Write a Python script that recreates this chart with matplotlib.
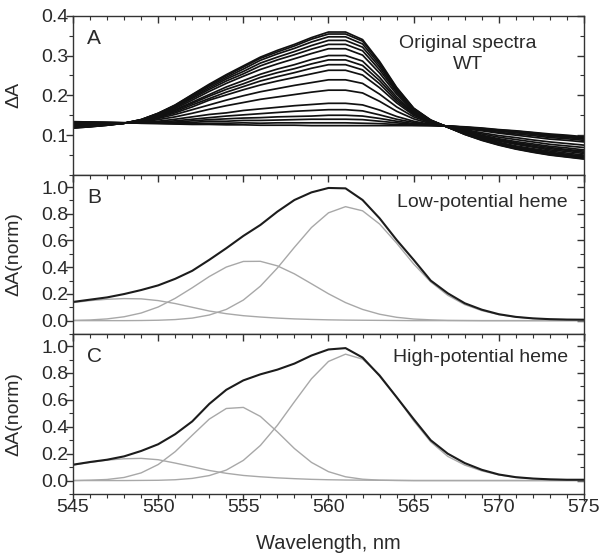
import matplotlib
matplotlib.use("Agg")
import matplotlib.pyplot as plt
from matplotlib.ticker import MultipleLocator

plt.rcParams['font.family'] = ['Liberation Sans', 'DejaVu Sans']

# ---------------- data ----------------
wavelength = list(range(545, 576))  # nm, 1 nm step

# Panel A: original redox-titration spectra (dA), one row per spectrum
orig_spectra = [
    [0.118,0.121,0.125,0.130,0.139,0.155,0.176,0.202,0.228,0.252,0.274,0.296,0.313,0.328,0.345,0.359,0.359,0.340,0.285,0.220,0.168,0.138,0.120,0.102,0.087,0.075,0.065,0.057,0.050,0.045,0.040],
    [0.118,0.121,0.125,0.130,0.139,0.155,0.175,0.201,0.226,0.249,0.271,0.293,0.309,0.324,0.341,0.354,0.354,0.336,0.282,0.218,0.167,0.138,0.120,0.102,0.088,0.076,0.066,0.058,0.051,0.046,0.041],
    [0.119,0.122,0.125,0.130,0.139,0.154,0.174,0.198,0.223,0.245,0.266,0.288,0.304,0.318,0.334,0.347,0.347,0.329,0.277,0.215,0.166,0.137,0.120,0.103,0.089,0.077,0.067,0.060,0.053,0.048,0.043],
    [0.119,0.122,0.126,0.130,0.138,0.153,0.172,0.195,0.219,0.241,0.260,0.281,0.296,0.310,0.325,0.338,0.338,0.321,0.271,0.211,0.164,0.137,0.120,0.104,0.090,0.079,0.069,0.062,0.055,0.050,0.045],
    [0.120,0.123,0.126,0.130,0.138,0.152,0.170,0.192,0.215,0.236,0.254,0.274,0.289,0.302,0.316,0.328,0.328,0.312,0.264,0.208,0.162,0.136,0.120,0.104,0.091,0.080,0.071,0.064,0.057,0.052,0.047],
    [0.121,0.123,0.126,0.130,0.137,0.150,0.167,0.188,0.210,0.230,0.248,0.265,0.279,0.292,0.305,0.317,0.317,0.301,0.256,0.203,0.160,0.136,0.121,0.105,0.093,0.082,0.073,0.066,0.060,0.055,0.050],
    [0.122,0.124,0.127,0.130,0.137,0.149,0.164,0.183,0.202,0.221,0.237,0.253,0.266,0.277,0.290,0.300,0.300,0.286,0.245,0.196,0.157,0.135,0.121,0.107,0.095,0.085,0.077,0.070,0.063,0.059,0.054],
    [0.123,0.125,0.127,0.130,0.136,0.147,0.162,0.180,0.198,0.215,0.229,0.245,0.257,0.267,0.279,0.289,0.289,0.275,0.237,0.191,0.155,0.134,0.121,0.108,0.096,0.087,0.079,0.072,0.066,0.062,0.057],
    [0.124,0.125,0.127,0.130,0.136,0.146,0.159,0.176,0.192,0.208,0.222,0.236,0.247,0.257,0.268,0.277,0.277,0.264,0.229,0.186,0.153,0.133,0.121,0.109,0.098,0.089,0.081,0.075,0.069,0.064,0.060],
    [0.125,0.126,0.128,0.130,0.135,0.144,0.156,0.171,0.188,0.201,0.214,0.226,0.236,0.245,0.254,0.263,0.263,0.251,0.219,0.181,0.150,0.132,0.121,0.110,0.100,0.091,0.084,0.078,0.072,0.068,0.063],
    [0.126,0.127,0.129,0.130,0.134,0.142,0.152,0.164,0.176,0.188,0.199,0.209,0.217,0.225,0.232,0.239,0.239,0.230,0.203,0.171,0.146,0.131,0.122,0.112,0.103,0.095,0.089,0.083,0.077,0.073,0.069],
    [0.128,0.128,0.129,0.130,0.133,0.139,0.146,0.155,0.165,0.174,0.182,0.190,0.196,0.202,0.208,0.213,0.213,0.206,0.185,0.160,0.141,0.129,0.122,0.114,0.106,0.099,0.094,0.088,0.083,0.079,0.075],
    [0.130,0.130,0.130,0.131,0.132,0.135,0.140,0.146,0.152,0.156,0.162,0.166,0.170,0.174,0.177,0.180,0.180,0.176,0.163,0.147,0.135,0.127,0.122,0.116,0.111,0.105,0.100,0.095,0.090,0.087,0.083],
    [0.131,0.131,0.131,0.131,0.132,0.133,0.136,0.140,0.144,0.148,0.151,0.154,0.157,0.160,0.162,0.164,0.164,0.161,0.151,0.140,0.132,0.126,0.123,0.118,0.113,0.107,0.103,0.099,0.094,0.091,0.087],
    [0.132,0.132,0.131,0.131,0.131,0.132,0.133,0.136,0.139,0.141,0.143,0.144,0.146,0.147,0.148,0.150,0.150,0.148,0.142,0.135,0.129,0.126,0.123,0.119,0.115,0.110,0.106,0.102,0.097,0.094,0.090],
    [0.133,0.132,0.132,0.131,0.131,0.131,0.131,0.132,0.135,0.135,0.137,0.137,0.138,0.139,0.140,0.140,0.140,0.139,0.135,0.131,0.127,0.125,0.123,0.120,0.116,0.111,0.108,0.104,0.099,0.096,0.092],
    [0.133,0.133,0.132,0.131,0.130,0.130,0.129,0.129,0.130,0.130,0.131,0.130,0.131,0.131,0.131,0.131,0.131,0.130,0.129,0.127,0.125,0.124,0.123,0.120,0.117,0.113,0.110,0.106,0.101,0.098,0.094],
    [0.134,0.133,0.132,0.131,0.130,0.129,0.128,0.127,0.127,0.126,0.126,0.125,0.125,0.125,0.124,0.124,0.124,0.124,0.124,0.124,0.124,0.124,0.123,0.121,0.118,0.114,0.111,0.107,0.103,0.100,0.096],
]

# Panel B: low-potential heme, normalised spectrum and its three bands
low_sum = [0.140,0.157,0.174,0.199,0.229,0.264,0.313,0.373,0.455,0.542,0.634,0.716,0.816,0.903,0.960,0.993,0.990,0.903,0.766,0.604,0.455,0.300,0.205,0.130,0.082,0.048,0.028,0.017,0.011,0.008,0.007]
low_band1 = [0.135,0.150,0.160,0.165,0.163,0.150,0.128,0.100,0.072,0.052,0.037,0.027,0.019,0.013,0.009,0.006,0.004,0.003,0.002,0.001,0,0,0,0,0,0,0,0,0,0,0]
low_band2 = [0.002,0.005,0.013,0.029,0.057,0.102,0.167,0.246,0.330,0.401,0.443,0.444,0.410,0.350,0.276,0.201,0.135,0.084,0.048,0.025,0.012,0.006,0.002,0.001,0,0,0,0,0,0,0]
low_band3 = [0,0,0,0,0.001,0.003,0.008,0.019,0.042,0.084,0.154,0.258,0.394,0.549,0.697,0.807,0.853,0.822,0.723,0.580,0.424,0.290,0.190,0.120,0.075,0.045,0.027,0.016,0.010,0.007,0.005]

# Panel C: high-potential heme
high_sum = [0.118,0.138,0.155,0.180,0.220,0.270,0.345,0.440,0.570,0.675,0.745,0.790,0.825,0.870,0.930,0.975,0.985,0.915,0.780,0.620,0.457,0.300,0.200,0.130,0.080,0.045,0.025,0.015,0.009,0.006,0.006]
high_band1 = [0.115,0.135,0.152,0.162,0.165,0.155,0.130,0.103,0.075,0.054,0.038,0.028,0.020,0.014,0.009,0.006,0.004,0.003,0.002,0.001,0,0,0,0,0,0,0,0,0,0,0]
high_band2 = [0,0.003,0.008,0.023,0.057,0.119,0.215,0.337,0.457,0.536,0.544,0.477,0.362,0.238,0.135,0.066,0.028,0.010,0.003,0.001,0,0,0,0,0,0,0,0,0,0,0]
high_band3 = [0,0,0,0,0.001,0.002,0.006,0.016,0.037,0.078,0.150,0.261,0.411,0.586,0.757,0.886,0.940,0.903,0.787,0.621,0.444,0.288,0.180,0.115,0.072,0.042,0.024,0.014,0.008,0.006,0.005]

panel_labels = ["A", "B", "C"]
panel_titles = ["Original spectra\nWT", "Low-potential heme", "High-potential heme"]
x_ticks = [545, 550, 555, 560, 565, 570, 575]

# ---------------- figure ----------------
TXT = "#2a2a2a"
fig = plt.figure(figsize=(6.05, 5.57), dpi=100)
L, W = 73/605, 511/605
axA = fig.add_axes([L, 1-175/557, W, 159.3/557])
axB = fig.add_axes([L, 1-334/557, W, 159/557], sharex=axA)
axC = fig.add_axes([L, 1-494/557, W, 160/557], sharex=axA)

for s in orig_spectra:
    axA.plot(wavelength, s, color="#111111", lw=1.25, solid_joinstyle="round")

gray = "#a8a8a8"
for ax, tot, bands in [(axB, low_sum, (low_band1, low_band2, low_band3)),
                       (axC, high_sum, (high_band1, high_band2, high_band3))]:
    for b in bands:
        ax.plot(wavelength, b, color=gray, lw=1.0, solid_joinstyle="round")
    ax.plot(wavelength, tot, color="#1c1c1c", lw=1.5, solid_joinstyle="round")

axA.set_ylim(0, 0.4)
axA.set_yticks([0.1, 0.2, 0.3, 0.4])
axA.yaxis.set_minor_locator(MultipleLocator(0.05))
for ax in (axB, axC):
    ax.set_ylim(-0.1, 1.09)
    ax.set_yticks([0.0, 0.2, 0.4, 0.6, 0.8, 1.0])
    ax.yaxis.set_minor_locator(MultipleLocator(0.1))

axC.set_xlim(545, 575)
axC.set_xticks(x_ticks)
axC.xaxis.set_minor_locator(MultipleLocator(1))

for ax in (axA, axB, axC):
    for sp in ax.spines.values():
        sp.set_color("#333333")
        sp.set_linewidth(1.0)
    ax.tick_params(axis="both", which="both", colors="#333333", labelcolor=TXT,
                   labelsize=14)
    ax.tick_params(axis="x", which="both", bottom=True, top=True, direction="in")
    ax.tick_params(axis="y", which="both", left=True, right=True, direction="in")
    ax.tick_params(which="major", length=5, width=1)
    ax.tick_params(which="minor", length=3, width=0.8)
    for t in ax.yaxis.get_major_ticks() + ax.yaxis.get_minor_ticks():
        t.tick1line.set_marker(matplotlib.markers.TICKLEFT)
    for t in ax.xaxis.get_major_ticks() + ax.xaxis.get_minor_ticks():
        t.tick1line.set_marker(matplotlib.markers.TICKDOWN)

for ax in (axA, axB):
    plt.setp(ax.get_xticklabels(), visible=False)

axA.set_ylabel("\u0394A", fontsize=14, color=TXT)
axB.set_ylabel("\u0394A(norm)", fontsize=14, color=TXT)
axC.set_ylabel("\u0394A(norm)", fontsize=14, color=TXT)
for ax in (axA, axB, axC):
    ax.yaxis.set_label_coords(-0.1, 0.5)
axC.set_xlabel("Wavelength, nm", fontsize=14.5, color=TXT, labelpad=13)

for ax, lab in zip((axA, axB, axC), panel_labels):
    ax.text(0.028, 0.86, lab, transform=ax.transAxes, fontsize=15, color=TXT,
            ha="left", va="center")

axA.text(0.773, 0.76, panel_titles[0], transform=axA.transAxes, fontsize=14,
         color=TXT, ha="center", va="center", linespacing=1.35)
axB.text(0.968, 0.83, panel_titles[1], transform=axB.transAxes, fontsize=14,
         color=TXT, ha="right", va="center")
axC.text(0.968, 0.85, panel_titles[2], transform=axC.transAxes, fontsize=14,
         color=TXT, ha="right", va="center")

fig.savefig("out.png", dpi=100)
